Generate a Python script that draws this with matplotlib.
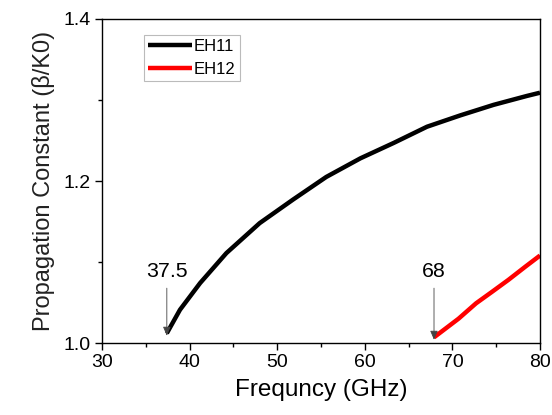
import matplotlib
matplotlib.use("Agg")
import matplotlib.pyplot as plt
from matplotlib.ticker import MultipleLocator

plt.rcParams['font.family'] = ['Liberation Sans', 'DejaVu Sans']

# EH11 mode
eh11_freq = [37.4, 38.9, 41.2, 44.2, 48.0, 51.8, 55.6, 59.5, 63.3, 67.1, 70.9, 74.7, 78.5, 80.0]
eh11_beta = [1.012, 1.041, 1.074, 1.111, 1.148, 1.177, 1.205, 1.228, 1.247, 1.267, 1.281, 1.294, 1.305, 1.309]
# EH12 mode
eh12_freq = [67.9, 70.7, 72.7, 74.5, 76.4, 78.3, 80.0]
eh12_beta = [1.007, 1.030, 1.049, 1.063, 1.078, 1.094, 1.108]

series_labels = ["EH11", "EH12"]
cutoff_labels = ["37.5", "68"]
x_ticks = [30, 40, 50, 60, 70, 80]
y_ticks = [1.0, 1.2, 1.4]

fig = plt.figure(figsize=(5.52, 4.15), dpi=100)
ax = fig.add_axes([102/552, 72/415, 438/552, 324/415])

ax.plot(eh11_freq, eh11_beta, color='black', lw=3.2, label=series_labels[0],
        solid_capstyle='butt', solid_joinstyle='round')
ax.plot(eh12_freq, eh12_beta, color='red', lw=3.2, label=series_labels[1],
        solid_capstyle='butt', solid_joinstyle='round')

ax.set_xlim(30, 80)
ax.set_ylim(1.0, 1.4)
ax.set_xticks(x_ticks)
ax.set_yticks(y_ticks)
ax.set_yticklabels([f"{v:.1f}" for v in y_ticks])
ax.xaxis.set_minor_locator(MultipleLocator(5))
ax.yaxis.set_minor_locator(MultipleLocator(0.1))
ax.tick_params(which='major', direction='out', length=5, width=1, labelsize=14, pad=3,
               top=False, right=False)
ax.tick_params(which='minor', direction='out', length=3, width=1, top=False, right=False)
for s in ax.spines.values():
    s.set_linewidth(1)

ax.set_xlabel("Frequncy (GHz)", fontsize=17.5, labelpad=6)
ax.set_ylabel("Propagation Constant (β/K0)", fontsize=17, labelpad=6, color='#222222')

arrow = dict(arrowstyle='-|>,head_length=0.35,head_width=0.15', lw=0.6, color='#444444',
             shrinkA=3, shrinkB=0)
ax.annotate(cutoff_labels[0], xy=(eh11_freq[0], eh11_beta[0] - 0.003), xytext=(eh11_freq[0], 1.088),
            ha='center', va='center', fontsize=15.4, arrowprops=arrow)
ax.annotate(cutoff_labels[1], xy=(eh12_freq[0], eh12_beta[0] - 0.003), xytext=(eh12_freq[0], 1.088),
            ha='center', va='center', fontsize=15.4, arrowprops=arrow)

leg = ax.legend(loc='upper left', bbox_to_anchor=(0.096, 0.951), borderaxespad=0,
                borderpad=0.25, handlelength=2.6, handletextpad=0.15, labelspacing=0.45,
                fontsize=12, frameon=True, fancybox=False, framealpha=1)
leg.get_frame().set_edgecolor('#bbbbbb')
leg.get_frame().set_linewidth(0.8)

fig.savefig("out.png", dpi=100)
